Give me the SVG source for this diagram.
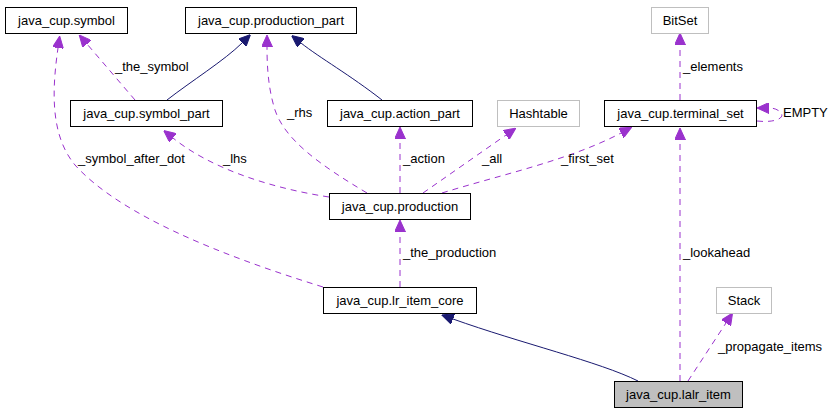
<svg xmlns="http://www.w3.org/2000/svg" width="837" height="413" viewBox="0 0 837 413">
<style>
text{font-family:"Liberation Sans",Arial,sans-serif;font-size:13px;fill:#000}
.n rect{fill:#fff;stroke:#000;stroke-width:1}
.n.ext rect{stroke:#bfbfbf}
.n.cur rect{fill:#bfbfbf}
.n text{text-anchor:middle}
.e{fill:none;stroke-width:1}
.u{stroke:#9a32cd;stroke-dasharray:6,5;marker-end:url(#ap)}
.i{stroke:#191970;marker-end:url(#an)}
</style>
<defs>
<marker id="ap" viewBox="0 0 12 11" refX="0" refY="5.5" markerWidth="12" markerHeight="11" markerUnits="userSpaceOnUse" orient="auto"><path d="M0,0 L12,5.5 L0,11 z" fill="#9a32cd" stroke="#9a32cd"/></marker>
<marker id="an" viewBox="0 0 12 11" refX="0" refY="5.5" markerWidth="12" markerHeight="11" markerUnits="userSpaceOnUse" orient="auto"><path d="M0,0 L12,5.5 L0,11 z" fill="#191970" stroke="#191970"/></marker>
</defs>
<g id="edges">
<path class="e u" d="M135,100 L87,44"/>
<path class="e i" d="M167,100 C190,82 225,60 242,43"/>
<path class="e i" d="M382,100 C350,75 320,58 301,43"/>
<path class="e u" d="M367,193 C320,165 285,140 275,110 C268,88 267,65 267,47"/>
<path class="e u" d="M329,197 C270,188 210,168 173,138"/>
<path class="e u" d="M323,287 C220,255 120,215 75,165 C50,135 52,90 58,48"/>
<path class="e u" d="M400,193 L400,139"/>
<path class="e u" d="M400,287 L400,232"/>
<path class="e u" d="M423,193 L506,135"/>
<path class="e u" d="M442,193 C500,175 570,160 621,133"/>
<path class="e i" d="M638,381 C600,362 520,343 453,319"/>
<path class="e u" d="M680,381 L680,140"/>
<path class="e u" d="M688,381 L726,323"/>
<path class="e u" d="M680,100 L680,45"/>
<path class="e u" d="M757,121 C775,123 785,118 781,113 C778,109 773,108 769,108"/>
<text x="115" y="71">_the_symbol</text>
<text x="287" y="117">_rhs</text>
<text x="683" y="71">_elements</text>
<text x="783" y="117">EMPTY</text>
<text x="78" y="163">_symbol_after_dot</text>
<text x="223" y="163">_lhs</text>
<text x="403" y="163">_action</text>
<text x="482" y="163">_all</text>
<text x="561" y="163">_first_set</text>
<text x="403" y="257">_the_production</text>
<text x="683" y="257">_lookahead</text>
<text x="718" y="351">_propagate_items</text>
</g>
<g id="symbol" class="n"><rect x="5.5" y="7.5" width="122" height="26"/><text x="66.5" y="24.5">java_cup.symbol</text></g>
<g id="production_part" class="n"><rect x="185.5" y="7.5" width="171" height="26"/><text x="271" y="24.5">java_cup.production_part</text></g>
<g id="BitSet" class="n ext"><rect x="651.5" y="7.5" width="57" height="26"/><text x="680" y="24.5">BitSet</text></g>
<g id="symbol_part" class="n"><rect x="70.5" y="100.5" width="152" height="26"/><text x="146.5" y="118">java_cup.symbol_part</text></g>
<g id="action_part" class="n"><rect x="327.5" y="100.5" width="145" height="26"/><text x="400" y="118">java_cup.action_part</text></g>
<g id="Hashtable" class="n ext"><rect x="497.5" y="100.5" width="82" height="26"/><text x="538.5" y="118">Hashtable</text></g>
<g id="terminal_set" class="n"><rect x="604.5" y="100.5" width="152" height="26"/><text x="680.5" y="118">java_cup.terminal_set</text></g>
<g id="production" class="n"><rect x="329.5" y="193.5" width="141" height="26"/><text x="400" y="211">java_cup.production</text></g>
<g id="lr_item_core" class="n"><rect x="323.5" y="287.5" width="153" height="26"/><text x="400" y="305">java_cup.lr_item_core</text></g>
<g id="Stack" class="n ext"><rect x="716.5" y="287.5" width="55" height="26"/><text x="744" y="305">Stack</text></g>
<g id="lalr_item" class="n cur"><rect x="614.5" y="381.5" width="128" height="26"/><text x="678.5" y="399">java_cup.lalr_item</text></g>
</svg>
